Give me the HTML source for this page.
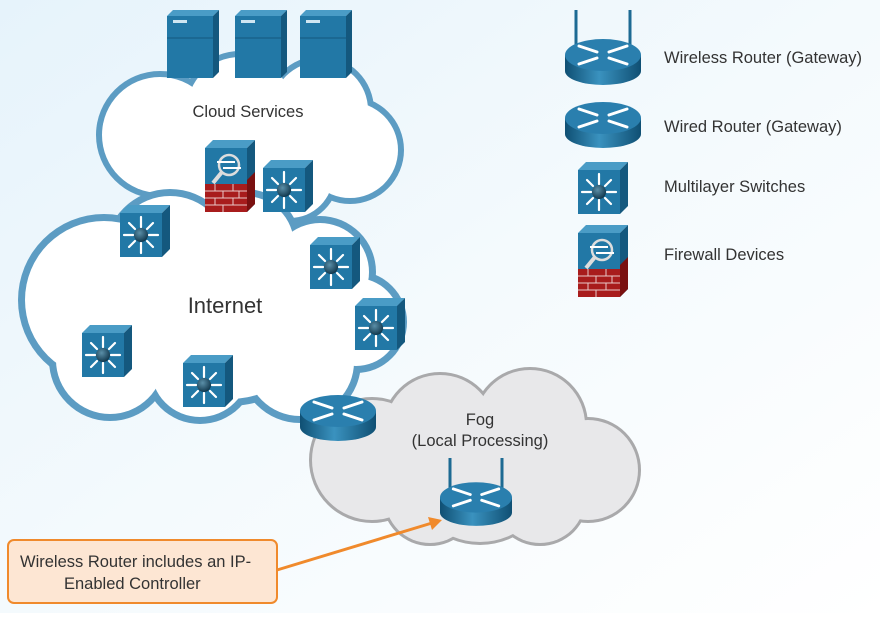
<!DOCTYPE html>
<html><head><meta charset="utf-8"><style>
body{margin:0;width:880px;height:613px;overflow:hidden;font-family:"Liberation Sans",sans-serif}
</style></head><body>
<svg width="880" height="613" viewBox="0 0 880 613" xmlns="http://www.w3.org/2000/svg">
<defs>
<linearGradient id="bg" x1="0" y1="0" x2="1" y2="1"><stop offset="0" stop-color="#e6f3fb"/><stop offset="0.5" stop-color="#f4fafd"/><stop offset="1" stop-color="#ffffff"/></linearGradient>
<linearGradient id="rb" x1="0" x2="1"><stop offset="0" stop-color="#0f4f73"/><stop offset="0.45" stop-color="#3a92bf"/><stop offset="1" stop-color="#0f4f73"/></linearGradient>
<radialGradient id="ball" cx="0.4" cy="0.35" r="0.7"><stop offset="0" stop-color="#5b8fa8"/><stop offset="1" stop-color="#0d3348"/></radialGradient>
<symbol id="cube" viewBox="0 0 50 52">
<polygon points="0,8 8,0 50,0 42,8" fill="#4a9cc6"/>
<polygon points="42,8 50,0 50,44 42,52" fill="#14587e"/>
<rect x="0" y="8" width="42" height="44" fill="#2278a6"/>
<g stroke="#fff" stroke-width="2.2" stroke-linecap="round">
<line x1="21" y1="22" x2="21" y2="12"/><line x1="21" y1="38" x2="21" y2="48"/>
<line x1="13" y1="30" x2="4" y2="30"/><line x1="29" y1="30" x2="38" y2="30"/>
<line x1="15" y1="24" x2="9" y2="18"/><line x1="27" y1="24" x2="33" y2="18"/>
<line x1="15" y1="36" x2="9" y2="42"/><line x1="27" y1="36" x2="33" y2="42"/>
</g>
<circle cx="21" cy="30" r="7" fill="url(#ball)"/>
</symbol>
<symbol id="router" viewBox="0 0 76 52">
<path d="M0,18 v16 a38,14 0 0 0 76,0 v-16 z" fill="url(#rb)"/>
<ellipse cx="38" cy="18" rx="38" ry="16" fill="#2a7fae"/>
<g stroke="#fff" stroke-width="3" stroke-linecap="round">
<line x1="14" y1="9" x2="32" y2="15"/><line x1="62" y1="27" x2="44" y2="21"/>
<line x1="62" y1="9" x2="44" y2="15"/><line x1="14" y1="27" x2="32" y2="21"/>
</g>
</symbol>
<symbol id="fw" viewBox="0 0 50 72">
<polygon points="0,8 8,0 50,0 42,8" fill="#4a9cc6"/>
<polygon points="42,8 50,0 50,64 42,72" fill="#14587e"/>
<rect x="0" y="8" width="42" height="40" fill="#2278a6"/>
<polygon points="42,40 50,32 50,64 42,72" fill="#7a1010"/>
<rect x="0" y="44" width="42" height="28" fill="#a81c1c"/>
<g stroke="#e9c9c9" stroke-width="1"><line x1="0" y1="51" x2="42" y2="51"/><line x1="0" y1="58" x2="42" y2="58"/><line x1="0" y1="65" x2="42" y2="65"/>
<line x1="10" y1="44" x2="10" y2="51"/><line x1="28" y1="44" x2="28" y2="51"/><line x1="18" y1="51" x2="18" y2="58"/><line x1="34" y1="51" x2="34" y2="58"/><line x1="10" y1="58" x2="10" y2="65"/><line x1="28" y1="58" x2="28" y2="65"/><line x1="18" y1="65" x2="18" y2="72"/></g>
<circle cx="24" cy="25" r="10" fill="none" stroke="#ddd" stroke-width="2.5"/>
<line x1="17" y1="32" x2="8" y2="43" stroke="#ddd" stroke-width="4"/>
<g stroke="#fff" stroke-width="2"><line x1="12" y1="22" x2="30" y2="22"/><line x1="18" y1="28" x2="36" y2="28"/></g>
</symbol>
<symbol id="server" viewBox="0 0 52 68">
<polygon points="0,6 6,0 52,0 46,6" fill="#4a9cc6"/>
<polygon points="46,6 52,0 52,62 46,68" fill="#14587e"/>
<rect x="0" y="6" width="46" height="62" fill="#2278a6"/>
<rect x="6" y="10" width="14" height="3" fill="#cfe6f2"/>
<line x1="0" y1="28" x2="46" y2="28" stroke="#14587e"/>
</symbol>
</defs>
<rect width="880" height="613" fill="url(#bg)"/>
<!-- Fog -->
<g fill="#a9a9ab"><circle cx="372" cy="460" r="63"/><circle cx="440" cy="430" r="58"/><circle cx="530" cy="425" r="58"/><circle cx="588" cy="470" r="53"/><circle cx="540" cy="498" r="48"/><circle cx="430" cy="498" r="48"/><circle cx="480" cy="470" r="75"/></g>
<g fill="#e8e8ea"><circle cx="372" cy="460" r="60"/><circle cx="440" cy="430" r="55"/><circle cx="530" cy="425" r="55"/><circle cx="588" cy="470" r="50"/><circle cx="540" cy="498" r="45"/><circle cx="430" cy="498" r="45"/><circle cx="480" cy="470" r="72"/></g>
<!-- Cloud services -->
<g fill="#5c9cc3"><circle cx="160" cy="135" r="64"/><circle cx="240" cy="110" r="59"/><circle cx="320" cy="110" r="54"/><circle cx="350" cy="150" r="54"/><circle cx="290" cy="175" r="49"/><circle cx="200" cy="170" r="49"/><circle cx="260" cy="150" r="64"/></g>
<g fill="#fff"><circle cx="160" cy="135" r="58"/><circle cx="240" cy="110" r="53"/><circle cx="320" cy="110" r="48"/><circle cx="350" cy="150" r="48"/><circle cx="290" cy="175" r="43"/><circle cx="200" cy="170" r="43"/><circle cx="260" cy="150" r="58"/></g>
<!-- Internet -->
<g fill="#5c9cc3"><circle cx="104" cy="300" r="86"/><circle cx="170" cy="255" r="66"/><circle cx="245" cy="245" r="56"/><circle cx="320" cy="272" r="56"/><circle cx="356" cy="322" r="51"/><circle cx="300" cy="362" r="61"/><circle cx="200" cy="368" r="56"/><circle cx="110" cy="360" r="61"/><circle cx="230" cy="310" r="96"/></g>
<g fill="#fff"><circle cx="104" cy="300" r="79"/><circle cx="170" cy="255" r="59"/><circle cx="245" cy="245" r="49"/><circle cx="320" cy="272" r="49"/><circle cx="356" cy="322" r="44"/><circle cx="300" cy="362" r="54"/><circle cx="200" cy="368" r="49"/><circle cx="110" cy="360" r="54"/><circle cx="230" cy="310" r="89"/></g>
<!-- servers -->
<use href="#server" x="167" y="10" width="52" height="68"/>
<use href="#server" x="235" y="10" width="52" height="68"/>
<use href="#server" x="300" y="10" width="52" height="68"/>
<use href="#fw" x="205" y="140" width="50" height="72"/>
<use href="#cube" x="263" y="160" width="50" height="52"/>
<use href="#cube" x="120" y="205" width="50" height="52"/>
<use href="#cube" x="310" y="237" width="50" height="52"/>
<use href="#cube" x="355" y="298" width="50" height="52"/>
<use href="#cube" x="82" y="325" width="50" height="52"/>
<use href="#cube" x="183" y="355" width="50" height="52"/>
<use href="#router" x="300" y="393" width="76" height="52"/>
<!-- fog wireless router -->
<g stroke="#1d6a93" stroke-width="3"><line x1="450" y1="458" x2="450" y2="490"/><line x1="502" y1="458" x2="502" y2="490"/></g>
<use href="#router" x="440" y="480" width="72" height="50"/>
<!-- legend -->
<g stroke="#1d6a93" stroke-width="3"><line x1="576" y1="10" x2="576" y2="45"/><line x1="630" y1="10" x2="630" y2="45"/></g>
<use href="#router" x="565" y="36" width="76" height="54"/>
<use href="#router" x="565" y="100" width="76" height="52"/>
<use href="#cube" x="578" y="162" width="50" height="52"/>
<use href="#fw" x="578" y="225" width="50" height="72"/>
<g font-size="16.5" fill="#333">
<text x="664" y="63">Wireless Router (Gateway)</text>
<text x="664" y="132">Wired Router (Gateway)</text>
<text x="664" y="192">Multilayer Switches</text>
<text x="664" y="260">Firewall Devices</text>
<text x="248" y="117" text-anchor="middle">Cloud Services</text>
<text x="480" y="425" text-anchor="middle">Fog</text>
<text x="480" y="446" text-anchor="middle">(Local Processing)</text>
</g>
<text x="225" y="313" font-size="22" fill="#333" text-anchor="middle">Internet</text>
<!-- callout -->
<line x1="277" y1="570" x2="432" y2="523" stroke="#f08a2c" stroke-width="3"/>
<polygon points="442,520 428,517 432,530" fill="#f08a2c"/>
<rect x="8" y="540" width="269" height="63" rx="6" fill="#fde6d3" stroke="#f08a2c" stroke-width="2"/>
<g font-size="16.5" fill="#333"><text x="20" y="567">Wireless Router includes an IP-</text><text x="64" y="589">Enabled Controller</text></g>
</svg>
</body></html>
